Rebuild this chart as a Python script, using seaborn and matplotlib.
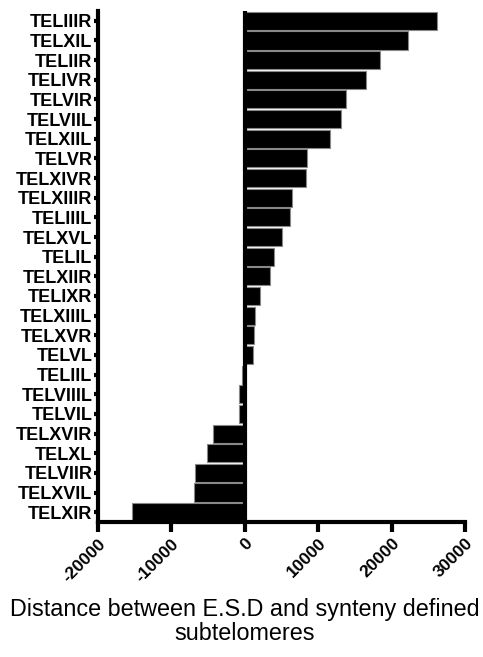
import matplotlib
matplotlib.use("Agg")
import matplotlib.pyplot as plt
import seaborn as sns
import pandas as pd

# telomere names, top to bottom
telomeres = ['TELIIIR', 'TELXIL', 'TELIIR', 'TELIVR', 'TELVIR', 'TELVIIL',
             'TELXIIL', 'TELVR', 'TELXIVR', 'TELXIIIR', 'TELIIIL', 'TELXVL',
             'TELIL', 'TELXIIR', 'TELIXR', 'TELXIIIL', 'TELXVR', 'TELVL',
             'TELIIL', 'TELVIIIL', 'TELVIL', 'TELXVIR', 'TELXL', 'TELVIIR',
             'TELXVIL', 'TELXIR']
# distance between E.S.D and synteny defined subtelomeres
distance = [26200, 22300, 18450, 16580, 13760, 13040,
            11540, 8540, 8370, 6400, 6130, 5000,
            3950, 3500, 2040, 1420, 1280, 1050,
            -400, -750, -800, -4300, -5100, -6800,
            -6900, -15400]
x_ticks = [-20000, -10000, 0, 10000, 20000, 30000]

df = pd.DataFrame({'telomere': telomeres, 'distance': distance})

sns.set_style('ticks')
plt.rcParams['font.family'] = ['Liberation Sans', 'DejaVu Sans']
for k in ['text.color', 'axes.labelcolor', 'xtick.color', 'ytick.color', 'axes.edgecolor']:
    plt.rcParams[k] = 'black'

fig = plt.figure(figsize=(4.83, 6.57), dpi=100)
ax = fig.add_axes([98 / 483, 1 - 522 / 657, (465 - 98) / 483, (522 - 11) / 657])

sns.barplot(data=df, x='distance', y='telomere', orient='h', color='black',
            saturation=1, width=0.92, edgecolor='#888888', linewidth=0.8, ax=ax)

# zero line
ax.axvline(0, color='black', lw=3, zorder=5)

ax.set_xlim(-20000, 30000)
ax.set_ylim(len(telomeres) - 0.5, -0.5)
ax.set_xticks(x_ticks)
ax.set_xticklabels([str(t) for t in x_ticks], rotation=45, ha='right',
                   rotation_mode='anchor', fontweight='bold', fontsize=12.5)
ax.set_yticks(range(len(telomeres)))
ax.set_yticklabels(telomeres, fontweight='bold', fontsize=13)
ax.set_xlabel('')
ax.set_ylabel('')

sns.despine(ax=ax)
for s in ['left', 'bottom']:
    ax.spines[s].set_linewidth(3)
ax.tick_params(axis='y', length=3, width=3, pad=1)
ax.tick_params(axis='x', length=7, width=3, pad=3)

fig.text(245 / 483, 1 - 598 / 657, 'Distance between E.S.D and synteny defined\nsubtelomeres',
         ha='center', va='top', fontsize=16.8, linespacing=1.05)

fig.savefig('out.png', dpi=100)
